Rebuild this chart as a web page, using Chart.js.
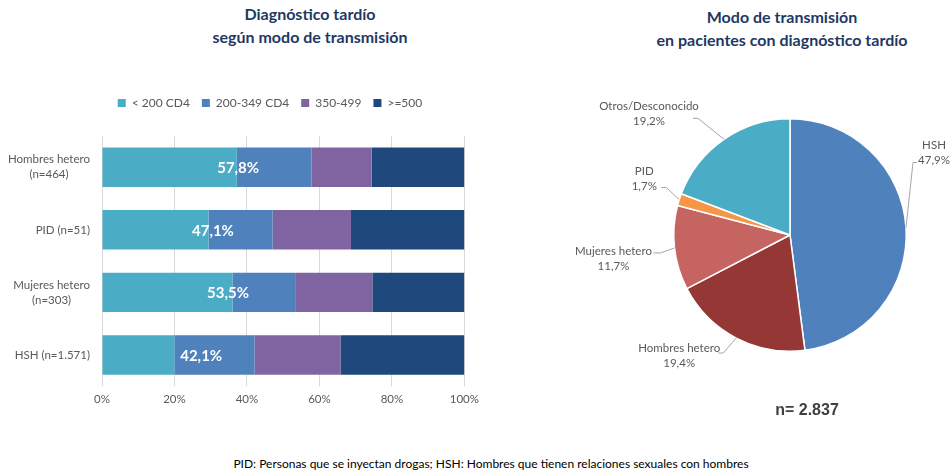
<!DOCTYPE html>
<html>
<head>
<meta charset="utf-8">
<script src="https://cdn.jsdelivr.net/npm/chart.js@4.4.1/dist/chart.umd.min.js"></script>
<style>
  body { margin: 0; background: #fff; font-family: Lato, sans-serif; }
  #wrap { position: relative; width: 950px; height: 475px; overflow: hidden; }
  .title { position: absolute; text-align: center; font-weight: bold; font-size: 16px; line-height: 23px; color: #1F3864; }
  #barBox { position: absolute; left: 0; top: 0; width: 485px; height: 420px; }
  #pieBox { position: absolute; left: 560px; top: 0; width: 390px; height: 440px; }
  #nTotal { position: absolute; left: 707px; top: 401px; width: 200px; text-align: center; font-family: "Liberation Sans", Arial, sans-serif; font-weight: bold; font-size: 16px; color: #404040; }
  #footer { position: absolute; left: 0; top: 456px; width: 982px; text-align: center; font-size: 12px; color: #000; }
</style>
</head>
<body>
<div id="wrap">
  <div class="title" style="left:160px; top:2px; width:300px;">Diagnóstico tardío<br>según modo de transmisión</div>
  <div class="title" style="left:632px; top:5px; width:300px;">Modo de transmisión<br>en pacientes con diagnóstico tardío</div>
  <div id="barBox"><canvas id="myChart"></canvas></div>
  <div id="pieBox"><canvas id="myChart1"></canvas></div>
  <div id="nTotal">n= 2.837</div>
  <div id="footer">PID: Personas que se inyectan drogas; HSH: Hombres que tienen relaciones sexuales con hombres</div>
</div>
<script>
// categorias (de arriba a abajo)
const groups = [['Hombres hetero', '(n=464)'], ['PID (n=51)'], ['Mujeres hetero', '(n=303)'], ['HSH (n=1.571)']];
const cd4Labels = ['< 200 CD4', '200-349 CD4', '350-499', '>=500'];
const under200 = [37.2, 29.4, 36.0, 20.0];
const from200to349 = [20.6, 17.7, 17.5, 22.1];
const from350to499 = [16.6, 21.6, 21.1, 23.7];
const over500 = [25.6, 31.3, 25.4, 34.2];
const xTicks = [0, 20, 40, 60, 80, 100];

// tarta
const pieLabels = ['HSH', 'Hombres hetero', 'Mujeres hetero', 'PID', 'Otros/Desconocido'];
const pieValues = [47.9, 19.4, 11.7, 1.7, 19.2];

const grey = '#595959';
const fmt = v => v.toFixed(1).replace('.', ',') + '%';

const ctx = document.getElementById('myChart');
const ctx1 = document.getElementById('myChart1');

// etiquetas de categoria centradas en bloque
const catLabels = {
    id: 'catLabels',
    afterDraw(chart) {
        const c = chart.ctx;
        const y = chart.scales.y;
        const right = chart.chartArea.left - 12;
        c.save();
        c.font = '11.5px Lato';
        c.fillStyle = grey;
        c.textAlign = 'center';
        c.textBaseline = 'middle';
        groups.forEach((lines, i) => {
            const w = Math.max(...lines.map(l => c.measureText(l).width));
            const cy = y.getPixelForValue(i);
            const lh = 15;
            lines.forEach((l, j) => {
                c.fillText(l, right - w / 2, cy + (j - (lines.length - 1) / 2) * lh);
            });
        });
        c.restore();
    }
};

// % diagnostico tardio (<350)
const lateLabels = {
    id: 'lateLabels',
    afterDatasetsDraw(chart) {
        const c = chart.ctx;
        const x = chart.scales.x;
        const y = chart.scales.y;
        c.save();
        c.font = 'bold 15px Lato';
        c.fillStyle = '#fff';
        c.textAlign = 'center';
        c.textBaseline = 'middle';
        under200.forEach((v, i) => {
            const late = v + from200to349[i];
            c.fillText(fmt(late), x.getPixelForValue(late * 0.65), y.getPixelForValue(i) + 1);
        });
        c.restore();
    }
};

// mas espacio bajo la leyenda
const legendGap = {
    id: 'legendGap',
    beforeInit(chart) {
        const fit = chart.legend.fit;
        chart.legend.fit = function () {
            fit.bind(chart.legend)();
            this.height += 17;
        };
    }
};

new Chart(ctx, {
    type: 'bar',
    data: {
        labels: groups,
        datasets: [
            { label: cd4Labels[0], data: under200, backgroundColor: '#4BACC6' },
            { label: cd4Labels[1], data: from200to349, backgroundColor: '#4F81BD' },
            { label: cd4Labels[2], data: from350to499, backgroundColor: '#8064A2' },
            { label: cd4Labels[3], data: over500, backgroundColor: '#1F497D' }
        ]
    },
    options: {
        indexAxis: 'y',
        responsive: true,
        maintainAspectRatio: false,
        animation: false,
        datasets: { bar: { categoryPercentage: 1, barPercentage: 0.63, borderWidth: 0 } },
        layout: { padding: { left: 66, right: 11, top: 85, bottom: 8 } },
        scales: {
            x: {
                stacked: true,
                min: 0,
                max: 100,
                afterBuildTicks: s => { s.ticks = xTicks.map(v => ({ value: v })); },
                ticks: { color: grey, font: { family: 'Lato', size: 11.5 }, callback: v => v + '%', padding: 6 },
                grid: { color: '#D9D9D9', drawTicks: false },
                border: { display: false }
            },
            y: {
                stacked: true,
                ticks: { display: false },
                grid: { display: false },
                border: { display: false },
                afterFit: s => { s.width = 36; }
            }
        },
        plugins: {
            legend: {
                position: 'top',
                labels: { boxWidth: 8, boxHeight: 8, padding: 12, color: grey, font: { family: 'Lato', size: 12 } }
            },
            tooltip: { enabled: false }
        }
    },
    plugins: [legendGap, catLabels, lateLabels]
});

// etiquetas de la tarta con lineas guia, relativas al borde del sector
const pieLabelPos = [
    { tx: 28, ty: -82, ex: 7, ey: -65, endx: 11 },
    { tx: -57, ty: 10, ex: -13, ey: 15, endx: -18 },
    { tx: -61, ty: 3, ex: -14, ey: 5, endx: -21 },
    { tx: -35, ty: -28, ex: -13, ey: -12, endx: -18 },
    { tx: -75, ty: -33, ex: -26, ey: -21, endx: -31 }
];

const pieLabelsPlugin = {
    id: 'pieLabelsPlugin',
    afterDatasetsDraw(chart) {
        const c = chart.ctx;
        const meta = chart.getDatasetMeta(0);
        c.save();
        c.font = '11.5px Lato';
        c.fillStyle = grey;
        c.textAlign = 'center';
        c.textBaseline = 'middle';
        c.strokeStyle = '#A6A6A6';
        c.lineWidth = 1;
        meta.data.forEach((arc, i) => {
            const mid = (arc.startAngle + arc.endAngle) / 2;
            const px = arc.x + Math.cos(mid) * arc.outerRadius;
            const py = arc.y + Math.sin(mid) * arc.outerRadius;
            const p = pieLabelPos[i];
            c.beginPath();
            c.moveTo(px, py);
            c.lineTo(px + p.ex, py + p.ey);
            c.lineTo(px + p.endx, py + p.ey);
            c.stroke();
            c.fillText(pieLabels[i], px + p.tx, py + p.ty);
            c.fillText(fmt(pieValues[i]), px + p.tx, py + p.ty + 15);
        });
        c.restore();
    }
};

new Chart(ctx1, {
    type: 'pie',
    data: {
        labels: pieLabels,
        datasets: [{
            data: pieValues,
            backgroundColor: ['#4F81BD', '#953735', '#C66462', '#F79646', '#4BACC6'],
            borderColor: '#fff',
            borderWidth: 1.5
        }]
    },
    options: {
        responsive: true,
        maintainAspectRatio: false,
        animation: false,
        layout: { padding: { left: 113, right: 43, top: 118, bottom: 88 } },
        plugins: {
            legend: { display: false },
            tooltip: { enabled: false }
        }
    },
    plugins: [pieLabelsPlugin]
});
</script>
</body>
</html>
